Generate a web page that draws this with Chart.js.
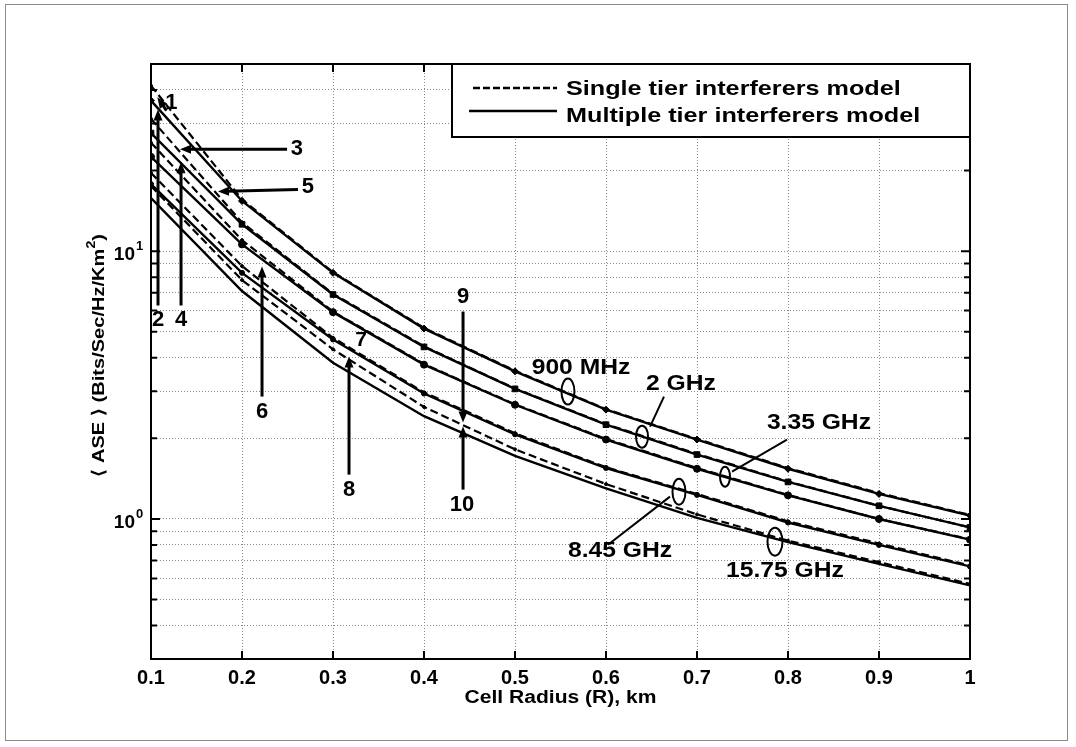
<!DOCTYPE html>
<html><head><meta charset="utf-8">
<script src="https://cdn.jsdelivr.net/npm/chart.js@4/dist/chart.umd.min.js"></script>
<style>
html,body{margin:0;padding:0;background:#fff;}
canvas{display:block;}
</style></head>
<body>
<canvas id="c" width="1076" height="747"></canvas>
<script>
// ---- data ----
const radius = [0.1,0.2,0.3,0.4,0.5,0.6,0.7,0.8,0.9,1.0];
const xTickValues = [0.1,0.2,0.3,0.4,0.5,0.6,0.7,0.8,0.9,1];
const yGridValues = [0.3,0.4,0.5,0.6,0.7,0.8,0.9,1,2,3,4,5,6,7,8,9,10,20,30,40,50];
const yLabelValues = [1,10];
const yLabelExponents = ['0','1'];

const ase900Single  = [41.5,15.6,8.35,5.17,3.58,2.57,1.99,1.55,1.25,1.035];
const ase900Multi   = [36.5,15.4,8.30,5.14,3.56,2.56,1.98,1.54,1.24,1.03];
const ase2Single    = [31.2,12.8,6.93,4.41,3.07,2.26,1.75,1.38,1.12,0.93];
const ase2Multi     = [27.6,12.6,6.89,4.39,3.06,2.25,1.74,1.375,1.12,0.93];
const ase335Single  = [25.4,11.0,5.95,3.79,2.68,1.99,1.55,1.23,1.0,0.84];
const ase335Multi   = [22.5,10.6,5.92,3.77,2.67,1.98,1.54,1.225,1.0,0.837];
const ase845Single  = [19.6,8.8,4.75,2.97,2.09,1.56,1.24,0.98,0.81,0.67];
const ase845Multi   = [17.8,8.3,4.68,2.94,2.07,1.55,1.23,0.97,0.80,0.665];
const ase1575Single = [17.5,7.8,4.30,2.62,1.82,1.35,1.04,0.83,0.69,0.572];
const ase1575Multi  = [15.8,7.1,3.83,2.42,1.72,1.30,1.01,0.82,0.68,0.565];

const legendLabels = ['Single tier interferers model','Multiple tier interferers model'];
const curveNumbers = ['1','2','3','4','5','6','7','8','9','10'];
const freqNames = ['900 MHz','2 GHz','3.35 GHz','8.45 GHz','15.75 GHz'];
const xTitle = 'Cell Radius (R), km';

// ---- annotation anchors (data coordinates) ----
const numberPos = [[0.1225,35.9],[0.1077,5.56],[0.2604,24.0],[0.1330,5.56],[0.2725,17.3],
                   [0.2220,2.52],[0.3308,4.64],[0.3176,1.287],[0.4429,6.77],[0.4418,1.131]];
const arrowPos = [
  [[0.1170,33.5],[0.1070,37.6]],
  [[0.1077,6.27],[0.1077,33.8]],
  [[0.2495,24.0],[0.1319,24.0]],
  [[0.1330,6.27],[0.1330,21.5]],
  [[0.2615,17.0],[0.1736,16.7]],
  [[0.2220,2.865],[0.2220,8.77]],
  [[0.3176,1.464],[0.3176,4.04]],
  [[0.4429,5.95],[0.4429,2.29]],
  [[0.4429,1.287],[0.4429,2.213]]
];
const freqPos = [[0.5725,3.677],[0.6824,3.203],[0.834,2.29],[0.6154,0.761],[0.7967,0.641]];
const ellipsePos = [[0.5582,2.99],[0.6396,2.03],[0.7308,1.439],[0.6802,1.265],[0.7857,0.823]];
const ellipseSize = [[6.5,13],[6,11],[5,10],[6.5,13],[7.5,14]];
const leaderPos = [
  [[0.6637,2.865],[0.6484,2.213]],
  [[0.7989,1.979],[0.7385,1.502]],
  [[0.6022,0.8015],[0.6703,1.2115]]
];

// ---- datasets ----
function mk(label, vals, dashed, style, r){
  return {label, data: radius.map((x,i)=>({x, y: vals[i]})),
    borderColor:'#000', backgroundColor:'#000', borderWidth: dashed ? 2.2 : 2.4,
    borderDash: dashed ? [8,4] : [], pointStyle: style, pointRadius: r,
    pointBackgroundColor:'#000', pointBorderColor:'#000', pointBorderWidth:1, tension:0, fill:false};
}
const datasets = [
  mk('900 single', ase900Single, true, 'circle', 1.5),
  mk('900 multi', ase900Multi, false, 'rectRot', 3.5),
  mk('2 single', ase2Single, true, 'circle', 1.5),
  mk('2 multi', ase2Multi, false, 'rect', 4),
  mk('3.35 single', ase335Single, true, 'circle', 1.5),
  mk('3.35 multi', ase335Multi, false, 'circle', 3.5),
  mk('8.45 single', ase845Single, true, 'circle', 1.5),
  mk('8.45 multi', ase845Multi, false, 'circle', 2.5),
  mk('15.75 single', ase1575Single, true, 'circle', 1.5),
  mk('15.75 multi', ase1575Multi, false, 'circle', 0)
];

const FONT = '"Liberation Sans", Arial, sans-serif';

function txt(ctx, s, x, y, size, sx, align, base){
  ctx.save();
  ctx.font = 'bold ' + size + 'px ' + FONT;
  ctx.fillStyle = '#000';
  ctx.textAlign = align || 'center';
  ctx.textBaseline = base || 'middle';
  ctx.translate(x, y); ctx.scale(sx || 1, 1);
  ctx.fillText(s, 0, 0);
  ctx.restore();
}
function arrow(ctx, x1, y1, x2, y2){
  const a = Math.atan2(y2-y1, x2-x1), L = 11, W = 4.5;
  ctx.save();
  ctx.strokeStyle = '#000'; ctx.fillStyle = '#000'; ctx.lineWidth = 3; ctx.setLineDash([]);
  ctx.beginPath(); ctx.moveTo(x1,y1);
  ctx.lineTo(x2 - Math.cos(a)*L*0.8, y2 - Math.sin(a)*L*0.8); ctx.stroke();
  ctx.beginPath(); ctx.moveTo(x2,y2);
  ctx.lineTo(x2 - Math.cos(a)*L - Math.sin(a)*W, y2 - Math.sin(a)*L + Math.cos(a)*W);
  ctx.lineTo(x2 - Math.cos(a)*L + Math.sin(a)*W, y2 - Math.sin(a)*L - Math.cos(a)*W);
  ctx.closePath(); ctx.fill();
  ctx.restore();
}

const decor = {
  id:'decor',
  beforeDraw(chart){
    const ctx = chart.ctx;
    ctx.save(); ctx.fillStyle='#fff'; ctx.fillRect(0,0,chart.width,chart.height); ctx.restore();
  },
  afterDraw(chart){
    const ctx = chart.ctx, a = chart.chartArea, xs = chart.scales.x, ys = chart.scales.y;
    const P = (p)=>[xs.getPixelForValue(p[0]), ys.getPixelForValue(p[1])];
    // outer thin border
    ctx.save(); ctx.strokeStyle='#8c8c8c'; ctx.lineWidth=1;
    ctx.strokeRect(5.5, 4.5, 1062, 736); ctx.restore();
    // tick marks
    ctx.save(); ctx.strokeStyle='#000'; ctx.lineWidth=2;
    yGridValues.forEach(v=>{
      const y = ys.getPixelForValue(v);
      const major = (v===1 || v===10);
      const len = major ? 9 : 6;
      ctx.beginPath(); ctx.moveTo(a.left, y); ctx.lineTo(a.left+len, y);
      ctx.moveTo(a.right, y); ctx.lineTo(a.right-len, y); ctx.stroke();
    });
    xTickValues.forEach(v=>{
      const x = xs.getPixelForValue(v);
      ctx.beginPath(); ctx.moveTo(x, a.bottom); ctx.lineTo(x, a.bottom-8);
      ctx.moveTo(x, a.top); ctx.lineTo(x, a.top+8); ctx.stroke();
    });
    ctx.restore();
    // y tick labels 10^n
    yLabelValues.forEach((v,i)=>{
      const y = ys.getPixelForValue(v);
      txt(ctx, '10', 135, y+3.5, 19, 1, 'right', 'middle');
      txt(ctx, yLabelExponents[i], 136, y-5, 13, 1, 'left', 'middle');
    });
    // axis titles
    txt(ctx, xTitle, (a.left+a.right)/2, 698, 18, 1.17, 'center', 'middle');
    ctx.save();
    ctx.translate(99, (a.top+a.bottom)/2 - 6); ctx.rotate(-Math.PI/2); ctx.scale(1.18,1);
    ctx.fillStyle='#000'; ctx.textBaseline='middle'; ctx.textAlign='left';
    const pa = '\u27E8 ASE \u27E9 (Bits/Sec/Hz/Km', ps='2', pb=')';
    ctx.font = 'bold 17px ' + FONT; const wa = ctx.measureText(pa).width, wb = ctx.measureText(pb).width;
    ctx.font = 'bold 12px ' + FONT; const wsup = ctx.measureText(ps).width;
    let x0 = -(wa+wsup+wb)/2;
    ctx.font = 'bold 17px ' + FONT; ctx.fillText(pa, x0, 0);
    ctx.font = 'bold 12px ' + FONT; ctx.fillText(ps, x0+wa, -7);
    ctx.font = 'bold 17px ' + FONT; ctx.fillText(pb, x0+wa+wsup, 0);
    ctx.restore();
    // annotations: arrows & numbers
    arrowPos.forEach(p=>{ const f=P(p[0]), t=P(p[1]); arrow(ctx, f[0], f[1], t[0], t[1]); });
    curveNumbers.forEach((s,i)=>{
      const p = P(numberPos[i]);
      if (s==='7') txt(ctx, s, p[0], p[1], 21, 1, 'center', 'middle');
      else txt(ctx, s, p[0], p[1], 22, 1, 'center', 'middle');
    });
    // frequency labels
    ctx.save(); ctx.strokeStyle='#000'; ctx.lineWidth=2; ctx.setLineDash([]);
    leaderPos.forEach(p=>{ const f=P(p[0]), t=P(p[1]); ctx.beginPath(); ctx.moveTo(f[0],f[1]); ctx.lineTo(t[0],t[1]); ctx.stroke(); });
    ellipsePos.forEach((p,i)=>{ const c=P(p); ctx.beginPath(); ctx.ellipse(c[0],c[1],ellipseSize[i][0],ellipseSize[i][1],0,0,Math.PI*2); ctx.stroke(); });
    ctx.restore();
    freqNames.forEach((s,i)=>{ const p=P(freqPos[i]); txt(ctx, s, p[0], p[1], 22, 1.12, 'center', 'middle'); });
    // legend box
    const lx = 452, ly = a.top, lw = a.right - 452, lh = 73;
    ctx.save();
    ctx.fillStyle='#fff'; ctx.fillRect(lx, ly, lw, lh);
    ctx.strokeStyle='#000'; ctx.lineWidth=2; ctx.strokeRect(lx, ly, lw, lh);
    ctx.lineWidth=2.5;
    ctx.setLineDash([7,3]); ctx.beginPath(); ctx.moveTo(473, ly+24); ctx.lineTo(557, ly+24); ctx.stroke();
    ctx.setLineDash([]); ctx.beginPath(); ctx.moveTo(469, ly+47); ctx.lineTo(557, ly+47); ctx.stroke();
    ctx.restore();
    txt(ctx, legendLabels[0], 566, ly+30.5, 21, 1.2, 'left', 'alphabetic');
    txt(ctx, legendLabels[1], 566, ly+58, 21, 1.2, 'left', 'alphabetic');
    // frame
    ctx.save(); ctx.strokeStyle='#000'; ctx.lineWidth=2; ctx.setLineDash([]);
    ctx.strokeRect(a.left, a.top, a.right-a.left, a.bottom-a.top); ctx.restore();
  }
};

new Chart(document.getElementById('c'), {
  type:'line',
  data:{datasets},
  options:{
    responsive:false, animation:false, devicePixelRatio:1,
    layout:{padding:{left:0, top:64, right:106, bottom:0}},
    plugins:{legend:{display:false}, tooltip:{enabled:false}},
    scales:{
      x:{type:'linear', min:0.1, max:1,
        afterBuildTicks:(s)=>{ s.ticks = xTickValues.map(v=>({value:v})); },
        afterFit:(s)=>{ s.height = 88; },
        ticks:{autoSkip:false, maxRotation:0, padding:7, color:'#000',
          font:{family:'"Liberation Sans", Arial, sans-serif', size:20, weight:'bold'},
          callback:(v)=> (v===1 ? '1' : Number(v).toFixed(1))},
        grid:{color:'#8a8a8a', lineWidth:1, drawTicks:false},
        border:{display:false, dash:[1,2]}
      },
      y:{type:'logarithmic', min:0.3, max:50,
        afterBuildTicks:(s)=>{ s.ticks = yGridValues.map(v=>({value:v})); },
        afterFit:(s)=>{ s.width = 151; },
        ticks:{display:false},
        grid:{color:'#8a8a8a', lineWidth:1, drawTicks:false},
        border:{display:false, dash:[1,2]}
      }
    }
  },
  plugins:[decor]
});
</script>
</body></html>
